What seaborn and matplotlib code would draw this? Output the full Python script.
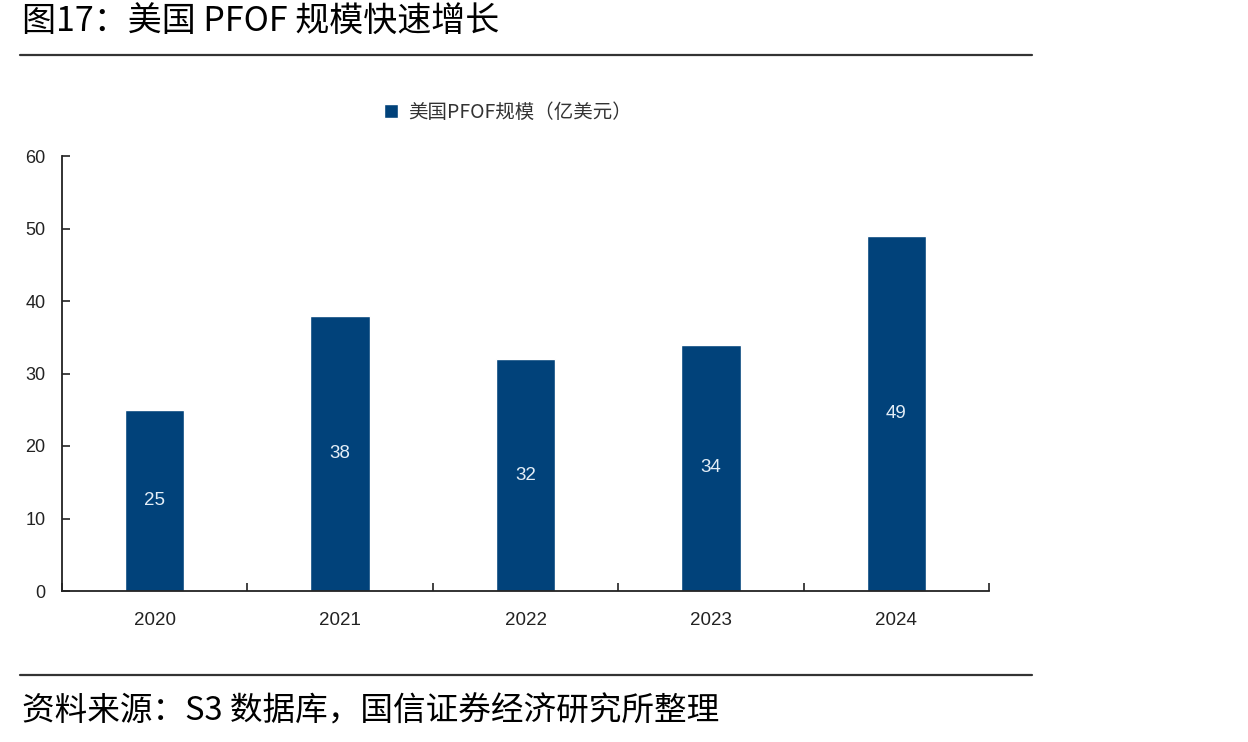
import matplotlib.pyplot as plt
import numpy as np
import pandas as pd
import seaborn as sns
from matplotlib.lines import Line2D
from matplotlib.ticker import FixedLocator

years = ["2020", "2021", "2022", "2023", "2024"]
pfof = [25, 38, 32, 34, 49]
series_name = "美国PFOF规模（亿美元）"
title = "图17：美国 PFOF 规模快速增长"
source = "资料来源：S3 数据库，国信证券经济研究所整理"

BAR = "#01427a"
INK = "#222222"

sns.set_theme(style="white")
plt.rcParams["font.family"] = ["Liberation Sans", "Noto Sans CJK SC", "DejaVu Sans"]
CJK = ["Noto Sans CJK SC", "DejaVu Sans"]

df = pd.DataFrame({"year": years, "value": pfof})

fig = plt.figure(figsize=(12.48, 7.42), dpi=100)
ax = fig.add_axes([62 / 1248, 151 / 742, 927 / 1248, 435 / 742])

sns.barplot(data=df, x="year", y="value", color=BAR, width=0.32, saturation=1,
            label=series_name, ax=ax)

# value labels in the middle of each bar
for i, v in enumerate(pfof):
    ax.text(i, v / 2, f"{v}", ha="center", va="center", color="#e4eef7", fontsize=13.5)

ax.set_ylim(0, 60)
ax.set_xlim(-0.5, len(years) - 0.5)
ax.set_yticks(np.arange(0, 61, 10))
ax.set_xlabel("")
ax.set_ylabel("")
ax.tick_params(axis="y", direction="in", length=6, width=1.2, color=INK, pad=12,
               labelsize=13, labelcolor=INK, left=True)
ax.tick_params(axis="x", which="major", length=0, pad=15, labelsize=13.5, labelcolor=INK)
ax.xaxis.set_minor_locator(FixedLocator(np.arange(-0.5, len(years), 1.0)))
ax.tick_params(axis="x", which="minor", direction="in", length=6, width=1.2,
               color=INK, bottom=True)

for side in ["top", "right"]:
    ax.spines[side].set_visible(False)
for side in ["left", "bottom"]:
    ax.spines[side].set_color(INK)
    ax.spines[side].set_linewidth(1.3)

leg = ax.legend(loc="center", bbox_to_anchor=(508 / 1248, 1 - 112 / 742),
                bbox_transform=fig.transFigure, frameon=False, ncol=1,
                handlelength=0.7, handleheight=0.7, handletextpad=0.5,
                prop={"family": CJK, "size": 14})
for t in leg.get_texts():
    t.set_color("#333333")

# header / footer
fig.text(22 / 1248, 1 - 22 / 742, title, ha="left", va="center",
         fontsize=24.5, family=CJK, color="black")
fig.text(22 / 1248, 1 - 712 / 742, source, ha="left", va="center",
         fontsize=23.5, family=CJK, color="black")
for ypx in (55, 675):
    fig.add_artist(Line2D([20 / 1248, 1032 / 1248], [1 - ypx / 742, 1 - ypx / 742],
                          transform=fig.transFigure, color="#333333", linewidth=1.6))

fig.savefig("out.png", dpi=100)
